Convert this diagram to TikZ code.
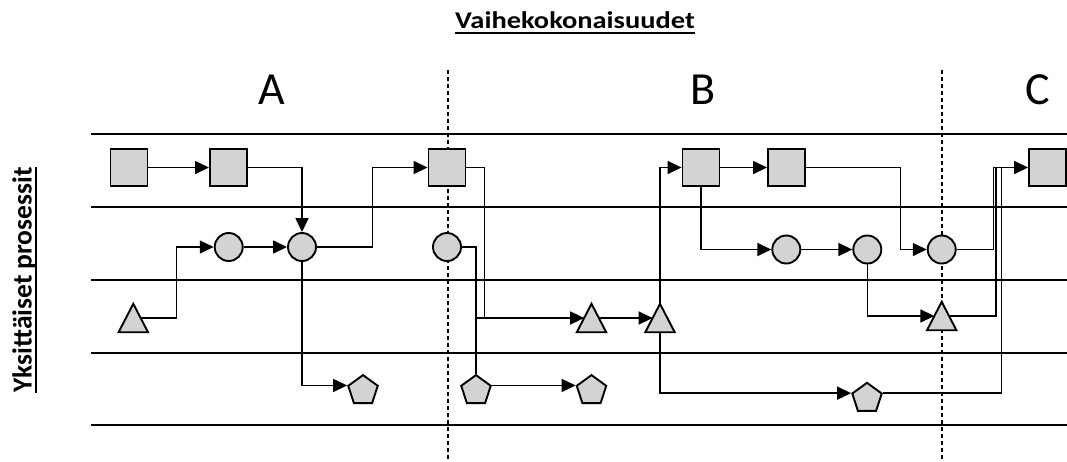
\documentclass[tikz,border=0pt]{standalone}
\usepackage{fontspec}
\setmainfont{Carlito}
\usetikzlibrary{arrows.meta,shapes.geometric,calc}
\definecolor{shapefill}{RGB}{211,211,211}

\begin{document}
\begin{tikzpicture}[x=1pt,y=-1pt,
  lane/.style={line width=2.2pt},
  phase/.style={line width=1.3pt, dash pattern=on 4pt off 3pt},
  shapeline/.style={draw, line width=1.9pt, fill=shapefill},
  box/.style={shapeline, minimum size=37pt, inner sep=0pt},
  disc/.style={shapeline, circle, minimum size=28pt, inner sep=0pt},
  pent/.style={shapeline, regular polygon, regular polygon sides=5, minimum size=31pt, inner sep=0pt},
  tribox/.style={minimum width=29pt, minimum height=28pt, inner sep=0pt},
  tri/.style={shapeline, line join=miter},
  flow/.style={line width=1.5pt, -{Triangle[length=14pt,width=13pt]}},
  link/.style={line width=1.5pt},
  letter/.style={font=\fontsize{46}{50}\selectfont, inner sep=0pt, anchor=base},
  heading/.style={font=\fontsize{27.5}{30}\selectfont\bfseries, inner sep=0pt, anchor=base},
]
\useasboundingbox (0,0) rectangle (1067,461);

% swimlane separators
\foreach \y in {134,206.7,280,352.7,425}
  \draw[lane] (91,\y) -- (1067,\y);

% phase boundaries
\draw[phase] (448,70) -- (448,461);
\draw[phase] (942,70) -- (942,461);

% headings
\node[heading, font=\fontsize{24}{28}\selectfont\bfseries, xscale=1.185] (title) at (575,28.3) {Vaihekokonaisuudet};
\draw[line width=1.8pt] ([yshift=-4.7pt]title.base west) -- ([yshift=-4.7pt]title.base east);
\node[heading, rotate=90] (lanes) at (31.5,280) {Yksittäiset prosessit};
\draw[line width=1.6pt] ([xshift=4.5pt]lanes.base west) -- ([xshift=4.5pt]lanes.base east);

\node[letter] (pa) at (272,104) {A};
\node[letter] (pb) at (703,104) {B};
\node[letter] (pc) at (1038,104) {C};

% squares
\node[box] (s1) at (129,167.5) {};
\node[box] (s2) at (228.5,167.5) {};
\node[box] (s3) at (447,167.5) {};
\node[box] (s4) at (701,167.5) {};
\node[box] (s5) at (786.5,167.5) {};
\node[box] (s6) at (1047.5,167.5) {};

% circles
\node[disc] (c1) at (228.7,247) {};
\node[disc] (c2) at (302,247) {};
\node[disc] (c3) at (447,247) {};
\node[disc] (c4) at (786.3,249.5) {};
\node[disc] (c5) at (867.3,249.5) {};
\node[disc] (c6) at (941.7,249.5) {};

% triangles
\node[tribox] (t1) at (133.3,318) {};
\node[tribox] (t2) at (591.5,318) {};
\node[tribox] (t3) at (660,318) {};
\node[tribox] (t4) at (941.7,316) {};
\foreach \t in {t1,t2,t3,t4}{
  \draw[tri] (\t.south west) -- (\t.north) -- (\t.south east) -- cycle;
  \coordinate (\t l) at ($(\t.south west)!0.5!(\t.north)$);
  \coordinate (\t r) at ($(\t.south east)!0.5!(\t.north)$);
}

% pentagons
\node[pent] (p1) at (363,390.6) {};
\node[pent] (p2) at (476,390.6) {};
\node[pent] (p3) at (591.5,390.6) {};
\node[pent] (p4) at (867,398.3) {};

% junction where the square joins the line to the triangle
\coordinate (j1) at (484.3,318);

% phase A
\draw[flow] (s1.east) -- (s2.west);
\draw[flow] (s2.east) -| (c2.north);
\draw[flow] (t1r) -- ++(36,0) |- (c1.west);
\draw[flow] (c1.east) -- (c2.west);
\draw[flow] (c2.east) -- ++(55.7,0) |- (s3.west);
\draw[flow] (c2.south) |- (p1.corner 2);

% phase B
\draw[link] (c3.east) -| (p2.corner 1);
\draw[flow] (p2.corner 1 |- t2l) -- (t2l);
\draw[link] (s3.east) -| (j1);
\draw[flow] (p2.corner 5) -- (p3.corner 2);
\draw[flow] (t2r) -- (t3l);
\draw[flow] (t3.north) |- (s4.west);
\draw[flow] (t3.south) |- (p4.corner 2);
\draw[flow] (s4.east) -- (s5.west);
\draw[flow] (s4.south) |- (c4.west);
\draw[flow] (c4.east) -- (c5.west);
\draw[flow] (s5.east) -- ++(94.3,0) |- (c6.west);
\draw[flow] (c5.south) |- (t4l);

% phase C: three inputs merge into the last square
\draw[link, shorten >=10pt] (c6.east) -- ++(36.6,0) |- (s6.west);
\draw[link, shorten >=10pt] (t4r) -- ++(46.7,0) |- (s6.west);
\draw[flow] (p4.corner 5) -- ++(118.6,0) |- (s6.west);
\end{tikzpicture}
\end{document}
